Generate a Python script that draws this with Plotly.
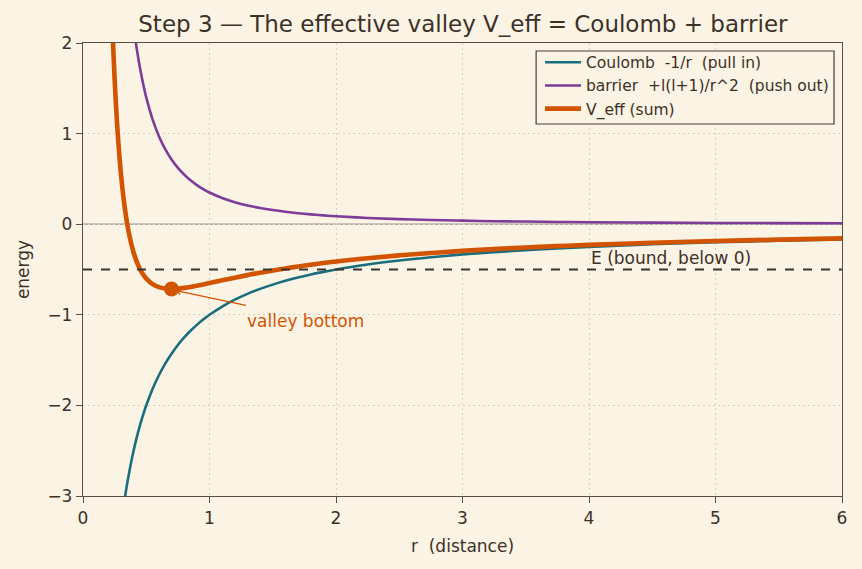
import plotly.graph_objects as go

r = [0.20, 0.21, 0.22, 0.23, 0.24, 0.25, 0.26, 0.27, 0.28, 0.29, 0.30, 0.32, 0.34, 0.36, 0.38,
     0.40, 0.42, 0.44, 0.46, 0.48, 0.50, 0.55, 0.60, 0.65, 0.70, 0.75, 0.80, 0.85, 0.90, 0.95,
     1.00, 1.10, 1.20, 1.30, 1.40, 1.50, 1.60, 1.70, 1.80, 1.90, 2.00, 2.25, 2.50, 2.75, 3.00,
     3.25, 3.50, 3.75, 4.00, 4.50, 5.00, 5.50, 6.00]
coulomb = [-5.000, -4.762, -4.545, -4.348, -4.167, -4.000, -3.846, -3.704, -3.571, -3.448, -3.333,
           -3.125, -2.941, -2.778, -2.632, -2.500, -2.381, -2.273, -2.174, -2.083, -2.000, -1.818,
           -1.667, -1.538, -1.429, -1.333, -1.250, -1.176, -1.111, -1.053, -1.000, -0.909, -0.833,
           -0.769, -0.714, -0.667, -0.625, -0.588, -0.556, -0.526, -0.500, -0.444, -0.400, -0.364,
           -0.333, -0.308, -0.286, -0.267, -0.250, -0.222, -0.200, -0.182, -0.167]
barrier = [8.750, 7.937, 7.231, 6.616, 6.076, 5.600, 5.178, 4.801, 4.464, 4.162, 3.889, 3.418,
           3.028, 2.701, 2.424, 2.188, 1.984, 1.808, 1.654, 1.519, 1.400, 1.157, 0.972, 0.828,
           0.714, 0.622, 0.547, 0.484, 0.432, 0.388, 0.350, 0.289, 0.243, 0.207, 0.179, 0.156,
           0.137, 0.121, 0.108, 0.097, 0.088, 0.069, 0.056, 0.046, 0.039, 0.033, 0.029, 0.025,
           0.022, 0.017, 0.014, 0.012, 0.010]
veff = [3.750, 3.175, 2.686, 2.268, 1.909, 1.600, 1.332, 1.097, 0.893, 0.714, 0.556, 0.293,
        0.087, -0.077, -0.208, -0.312, -0.397, -0.465, -0.520, -0.564, -0.600, -0.661, -0.695,
        -0.710, -0.715, -0.711, -0.703, -0.692, -0.679, -0.665, -0.650, -0.620, -0.590, -0.562,
        -0.535, -0.511, -0.488, -0.467, -0.448, -0.429, -0.412, -0.375, -0.344, -0.318, -0.294,
        -0.275, -0.257, -0.242, -0.228, -0.205, -0.186, -0.170, -0.157]
valley_r, valley_e = 0.70, -0.715
E_level = -0.5

BG = "#fbf3e4"
TXT = "#3b3128"
TEAL = "#1a6d7c"
PURPLE = "#7d3c98"
ORANGE = "#d35400"
FONT = "DejaVu Sans"
NB = "\u00a0"

fig = go.Figure()
fig.add_trace(go.Scatter(x=r, y=coulomb, mode="lines",
                         name=f"Coulomb{NB}{NB}-1/r{NB}{NB}(pull in)",
                         line=dict(color=TEAL, width=2.6, shape="spline")))
fig.add_trace(go.Scatter(x=r, y=barrier, mode="lines",
                         name=f"barrier{NB}{NB}+l(l+1)/r^2{NB}{NB}(push out)",
                         line=dict(color=PURPLE, width=2.6, shape="spline")))
fig.add_trace(go.Scatter(x=r, y=veff, mode="lines", name="V_eff (sum)",
                         line=dict(color=ORANGE, width=4.6, shape="spline")))
fig.add_trace(go.Scatter(x=[valley_r], y=[valley_e], mode="markers", showlegend=False,
                         marker=dict(color=ORANGE, size=15)))

# zero line and E level
fig.add_shape(type="line", xref="paper", x0=0, x1=1, yref="y", y0=0, y1=0,
              line=dict(color="#9a938a", width=1.2), layer="below")
fig.add_shape(type="line", xref="paper", x0=0, x1=1, yref="y", y0=E_level, y1=E_level,
              line=dict(color="#3a3530", width=1.8, dash="dash"))

# legend frame
fig.add_shape(type="rect", xref="paper", yref="paper", x0=0.597, x1=0.9895, y0=0.8212, y1=0.9823,
              line=dict(color="#4a4038", width=1.2), fillcolor=BG, layer="above")

fig.add_annotation(x=4.0, y=-0.37, xref="x", yref="y", text="E (bound, below 0)",
                   showarrow=False, xanchor="left", yanchor="middle",
                   font=dict(family=FONT, size=17, color=TXT))
fig.add_annotation(x=valley_r + 0.04, y=valley_e - 0.02, ax=1.3, ay=-0.9, xref="x", yref="y",
                   axref="x", ayref="y", text="", showarrow=True, arrowhead=4,
                   arrowsize=0.9, arrowwidth=1.3, arrowcolor=ORANGE)
fig.add_annotation(x=1.28, y=-1.07, xref="x", yref="y", text="valley bottom",
                   showarrow=False, xanchor="left", yanchor="middle",
                   font=dict(family=FONT, size=17, color=ORANGE))

axis_common = dict(showline=True, linecolor="#5a4e42", linewidth=1.3, mirror=True,
                   ticks="outside", ticklen=6, tickwidth=1.3, tickcolor="#5a4e42",
                   showgrid=True, gridcolor="#d9d0c0", griddash="2px,3px", gridwidth=1,
                   zeroline=False, tickfont=dict(family=FONT, size=17, color=TXT),
                   title_font=dict(family=FONT, size=17, color=TXT))

fig.update_xaxes(range=[0, 6], tickvals=[0, 1, 2, 3, 4, 5, 6],
                 title_text=f"r{NB}{NB}(distance)", title_standoff=13, **axis_common)
fig.update_yaxes(range=[-3, 2], tickvals=[-3, -2, -1, 0, 1, 2],
                 ticktext=["\u22123", "\u22122", "\u22121", "0", "1", "2"],
                 title_text="energy", title_standoff=13, **axis_common)

fig.update_layout(
    width=862, height=569,
    paper_bgcolor=BG, plot_bgcolor=BG,
    margin=dict(l=83, r=20, t=43, b=73),
    title=dict(text="Step 3 \u2014 The effective valley V_eff = Coulomb + barrier",
               x=0.537, xanchor="center", y=0.958, yanchor="middle",
               font=dict(family=FONT, size=23, color=TXT)),
    legend=dict(x=0.9895, y=0.994, xanchor="right", yanchor="top",
                bgcolor="rgba(0,0,0,0)", borderwidth=0,
                font=dict(family=FONT, size=15.5, color=TXT),
                tracegroupgap=0, itemwidth=36),
    showlegend=True,
)

fig.write_html("out.html")
